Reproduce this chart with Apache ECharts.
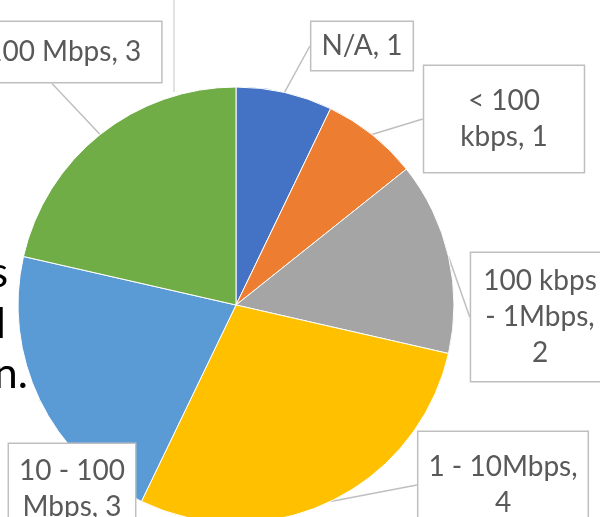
<!DOCTYPE html>
<html>
<head>
<meta charset="utf-8">
<script src="https://cdn.jsdelivr.net/npm/echarts@6/dist/echarts.min.js"></script>
<style>
  html, body { margin: 0; padding: 0; background: #fff; }
  #chart { width: 600px; height: 517px; }
</style>
</head>
<body>
<div id="chart"></div>
<script>
// speed buckets and how many answers fell in each
const categories = ['N/A', '< 100 kbps', '100 kbps - 1Mbps', '1 - 10Mbps', '10 - 100 Mbps', '> 100 Mbps'];
const counts = [1, 1, 2, 4, 3, 3];
// how each data label is wrapped in the picture
const labelTemplates = ['N/A, {c}', '< 100\nkbps, {c}', '100 kbps\n- 1Mbps,\n{c}', '1 - 10Mbps,\n{c}', '10 - 100\nMbps, {c}', '> 100 Mbps, {c}'];

const colors = ['#4472C4', '#ED7D31', '#A5A5A5', '#FFC000', '#5B9BD5', '#70AD47'];
// callout box centres and paddings (layout only)
const labelPos = [[362, 46], [504, 119], [540, 317], [503, 485], [72, 489], [52, 52]];
const labelPad = [[6, 10], [17, 36], [10, 12], [17, 10], [9, 10], [12, 20]];

const chart = echarts.init(document.getElementById('chart'));

const option = {
    animation: false,
    color: colors,
    graphic: [
        // bits of the surrounding page that show in the crop
        { type: 'line', z: -1, shape: { x1: 174, y1: 0, x2: 174, y2: 92 }, style: { stroke: '#d9d9d9', lineWidth: 1.5 } },
        { type: 'text', x: 8, y: 273, style: { text: 's', font: '43px Lato', fill: '#000', align: 'right', verticalAlign: 'middle' } },
        { type: 'text', x: 6, y: 324, style: { text: 'l', font: '43px Lato', fill: '#000', align: 'right', verticalAlign: 'middle' } },
        { type: 'text', x: 28, y: 374, style: { text: 'n.', font: '43px Lato', fill: '#000', align: 'right', verticalAlign: 'middle' } }
    ],
    series: [{
        type: 'pie',
        center: [236, 305],
        radius: 218,
        startAngle: 90,
        clockwise: true,
        avoidLabelOverlap: false,
        itemStyle: { borderColor: '#fff', borderWidth: 1 },
        label: {
            show: true,
            color: '#595959',
            fontFamily: 'Lato',
            fontSize: 28,
            lineHeight: 36,
            align: 'center',
            backgroundColor: '#fff',
            borderColor: '#bfbfbf',
            borderWidth: 1.5
        },
        labelLine: {
            show: true,
            length: 0,
            length2: 0,
            smooth: false,
            lineStyle: { color: '#bfbfbf', width: 1.5 }
        },
        labelLayout: function (params) {
            const p = labelPos[params.dataIndex];
            return { x: p[0], y: p[1], align: 'center', verticalAlign: 'middle' };
        },
        data: categories.map(function (name, i) {
            return {
                name: name,
                value: counts[i],
                label: { formatter: labelTemplates[i], padding: labelPad[i] }
            };
        })
    }]
};

chart.setOption(option);
</script>
</body>
</html>
